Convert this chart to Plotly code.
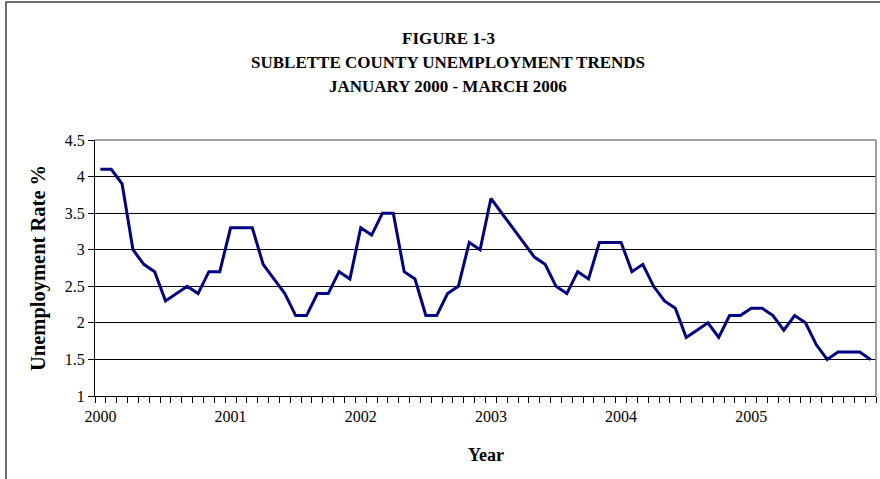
import plotly.graph_objects as go

years = ["2000", "2001", "2002", "2003", "2004", "2005"]
rate = [
    4.1, 4.1, 3.9, 3.0, 2.8, 2.7, 2.3, 2.4, 2.5, 2.4, 2.7, 2.7,
    3.3, 3.3, 3.3, 2.8, 2.6, 2.4, 2.1, 2.1, 2.4, 2.4, 2.7, 2.6,
    3.3, 3.2, 3.5, 3.5, 2.7, 2.6, 2.1, 2.1, 2.4, 2.5, 3.1, 3.0,
    3.7, 3.5, 3.3, 3.1, 2.9, 2.8, 2.5, 2.4, 2.7, 2.6, 3.1, 3.1,
    3.1, 2.7, 2.8, 2.5, 2.3, 2.2, 1.8, 1.9, 2.0, 1.8, 2.1, 2.1,
    2.2, 2.2, 2.1, 1.9, 2.1, 2.0, 1.7, 1.5, 1.6, 1.6, 1.6, 1.5,
]
y_ticks = [1, 1.5, 2, 2.5, 3, 3.5, 4, 4.5]
y_ticktext = ["1", "1.5", "2", "2.5", "3", "3.5", "4", "4.5"]
title_lines = ["FIGURE 1-3", "SUBLETTE COUNTY UNEMPLOYMENT TRENDS", "JANUARY 2000 - MARCH 2006"]

x = list(range(len(rate)))
year_pos = [i * 12 for i in range(len(years))]

W, H = 880, 479
ML, MR, MT, MB = 95, 4, 140, 83
PH = H - MT - MB
PW = W - ML - MR

def py(ypix):
    return (H - MB - ypix) / PH

def px(xpix):
    return (xpix - ML) / PW

FONT = "Liberation Serif"

fig = go.Figure()
fig.add_trace(go.Scatter(
    x=x, y=rate, mode="lines",
    line=dict(color="#000080", width=3),
    hoverinfo="skip", showlegend=False,
))

fig.update_layout(
    width=W, height=H,
    margin=dict(l=ML, r=MR, t=MT, b=MB),
    paper_bgcolor="white", plot_bgcolor="white",
    font=dict(family=FONT, size=16, color="black"),
    showlegend=False,
)

fig.update_xaxes(
    range=[-0.5, len(rate) - 0.5],
    tickmode="array", tickvals=year_pos, ticktext=years,
    ticks="", showgrid=False, zeroline=False,
    showline=True, linecolor="black", linewidth=1.2,
    tickfont=dict(family=FONT, size=16, color="black"),
    ticklabelstandoff=6,
    minor=dict(tickmode="linear", tick0=-0.5, dtick=1, ticks="outside",
               ticklen=6, tickcolor="black", tickwidth=1, showgrid=False),
)
fig.update_yaxes(
    range=[1, 4.5],
    tickmode="array", tickvals=y_ticks, ticktext=y_ticktext,
    ticks="outside", ticklen=6, tickcolor="black",
    showgrid=True, gridcolor="#000000", gridwidth=1,
    zeroline=False,
    showline=True, linecolor="black", linewidth=1.2,
    tickfont=dict(family=FONT, size=16, color="black"),
)

# plot-area border (gray) and outer chart frame
fig.add_shape(type="line", xref="paper", yref="paper", x0=0, x1=1, y0=1, y1=1,
              line=dict(color="#808080", width=1.5), layer="above")
fig.add_shape(type="line", xref="paper", yref="paper", x0=1, x1=1, y0=0, y1=1,
              line=dict(color="#808080", width=1.5), layer="above")
fig.add_shape(type="rect", xref="paper", yref="paper",
              x0=px(6), x1=px(W + 20), y0=py(2), y1=py(H + 20),
              line=dict(color="#404040", width=1.5), layer="above")

for t, yp in zip(title_lines, [38, 62, 86]):
    fig.add_annotation(text="<b>%s</b>" % t, xref="paper", yref="paper",
                       x=px(448), y=py(yp), showarrow=False,
                       xanchor="center", yanchor="middle",
                       font=dict(family=FONT, size=17, color="black"))

fig.add_annotation(text="<b>Year</b>", xref="paper", yref="paper",
                   x=px(486), y=py(455), showarrow=False,
                   xanchor="center", yanchor="middle",
                   font=dict(family=FONT, size=18, color="black"))
fig.add_annotation(text="<b>Unemployment Rate %</b>", xref="paper", yref="paper",
                   x=px(38), y=py(268), showarrow=False, textangle=-90,
                   xanchor="center", yanchor="middle",
                   font=dict(family=FONT, size=20.5, color="black"))

fig.write_html("out.html")
